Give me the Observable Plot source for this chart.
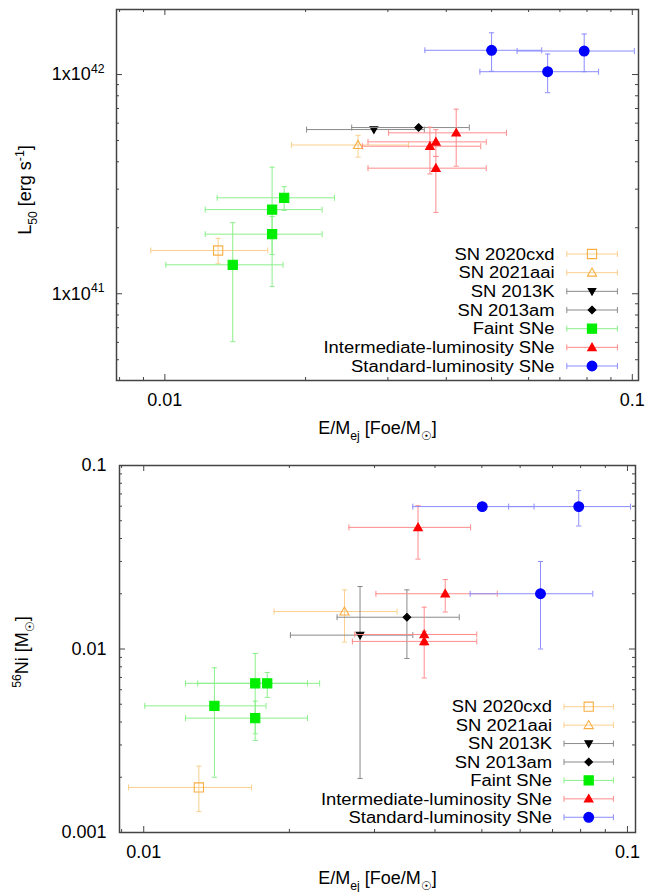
<!DOCTYPE html>
<html><head><meta charset="utf-8">
<script src="https://cdn.jsdelivr.net/npm/d3@7"></script>
<script src="https://cdn.jsdelivr.net/npm/@observablehq/plot@0.6"></script>
<style>
body{margin:0;background:#fff;}
#chart{width:646px;}
svg{display:block;}
</style></head><body><div id="chart"></div>
<script>
// ---------- DATA ----------
const seriesNames = ["SN 2020cxd","SN 2021aai","SN 2013K","SN 2013am","Faint SNe","Intermediate-luminosity SNe","Standard-luminosity SNe"];

// Top panel: L50 vs E/Mej
const topSeries = ["SN 2020cxd","SN 2021aai","SN 2013K","SN 2013am",
  "Faint SNe","Faint SNe","Faint SNe","Faint SNe",
  "Intermediate-luminosity SNe","Intermediate-luminosity SNe","Intermediate-luminosity SNe","Intermediate-luminosity SNe",
  "Standard-luminosity SNe","Standard-luminosity SNe","Standard-luminosity SNe"];
const topE   = [0.013, 0.0259, 0.028, 0.0349, 0.018, 0.01696, 0.01696, 0.01397, 0.042, 0.038, 0.0369, 0.038, 0.050, 0.0789, 0.0659];
const topELo = [0.00933, 0.01865, 0.0201, 0.0251, 0.01294, 0.0122, 0.0122, 0.01005, 0.0301, 0.0272, 0.02646, 0.0272, 0.036, 0.0567, 0.0472];
const topEHi = [0.0166, 0.0332, 0.0359, 0.0448, 0.02306, 0.0217, 0.0217, 0.0179, 0.0538, 0.0487, 0.0474, 0.0487, 0.064, 0.101, 0.0847];
const topL   = [1.575e41, 4.77e41, 5.61e41, 5.73e41, 2.74e41, 2.42e41, 1.87e41, 1.355e41, 5.42e41, 4.93e41, 4.71e41, 3.74e41, 1.29e42, 1.28e42, 1.03e42];
const topLLo = [1.37e41, 4.2e41, 5.61e41, 5.73e41, 2.40e41, 1.51e41, 1.08e41, 6.04e40, 3.82e41, 4.23e41, 3.52e41, 2.35e41, 1.035e42, 1.03e42, 8.26e41];
const topLHi = [1.79e41, 5.28e41, 5.61e41, 5.73e41, 3.08e41, 3.78e41, 2.25e41, 2.11e41, 6.95e41, 5.6e41, 5.75e41, 4.23e41, 1.55e42, 1.53e42, 1.24e42];

// Bottom panel: 56Ni vs E/Mej
const botSeries = topSeries.slice();
const botE   = [0.013, 0.026, 0.028, 0.035, 0.018, 0.017, 0.014, 0.017, 0.042, 0.038, 0.0369, 0.038, 0.0501, 0.0793, 0.0661];
const botELo = [0.0093, 0.0186, 0.0201, 0.0251, 0.01293, 0.0122, 0.01005, 0.0122, 0.0302, 0.0273, 0.02656, 0.0270, 0.036, 0.0568, 0.0473];
const botEHi = [0.0167, 0.0334, 0.036, 0.0449, 0.0231, 0.0218, 0.0179, 0.0218, 0.0538, 0.0488, 0.0474, 0.0488, 0.0641, 0.1015, 0.0848];
const botNi   = [0.00176, 0.016, 0.0119, 0.0149, 0.0065, 0.0065, 0.0049, 0.0042, 0.020, 0.012, 0.046, 0.011, 0.0597, 0.0597, 0.020];
const botNiLo = [0.0013, 0.0109, 0.00197, 0.00888, 0.00545, 0.00345, 0.0020, 0.00317, 0.0159, 0.0105, 0.0309, 0.00695, 0.0597, 0.0468, 0.010];
const botNiHi = [0.0023, 0.021, 0.0219, 0.021, 0.00745, 0.00945, 0.0079, 0.0052, 0.0239, 0.0169, 0.0604, 0.0125, 0.0597, 0.073, 0.030];

const topXDomain = [0.00788, 0.1031], topYDomain = [4.02e40, 1.98e42];
const botXDomain = [0.00891, 0.1039], botYDomain = [0.001, 0.1];

// ---------- STYLES ----------
function sz(s){return Math.sqrt(s/Math.PI);}
const symCircle = {draw(c,s){const r=sz(s); c.moveTo(r,0); c.arc(0,0,r,0,2*Math.PI);}};
const symSquare = {draw(c,s){const r=sz(s); c.rect(-r,-r,2*r,2*r);}};
const symTriUp  = {draw(c,s){const r=sz(s); c.moveTo(0,-r); c.lineTo(r,0.75*r); c.lineTo(-r,0.75*r); c.closePath();}};
const symTriDn  = {draw(c,s){const r=sz(s); c.moveTo(0,r); c.lineTo(r,-0.75*r); c.lineTo(-r,-0.75*r); c.closePath();}};
const symDiam   = {draw(c,s){const r=sz(s); c.moveTo(0,-r); c.lineTo(r,0); c.lineTo(0,r); c.lineTo(-r,0); c.closePath();}};
const capV = {draw(c,s){const r=sz(s); c.moveTo(0,-r); c.lineTo(0,r);}};
const capH = {draw(c,s){const r=sz(s); c.moveTo(-r,0); c.lineTo(r,0);}};

const styles = {
  "SN 2020cxd": {sym: symSquare, r: 4.6, fill: "none", stroke: "#F7AE45", bar: "#FBCF8E"},
  "SN 2021aai": {sym: symTriUp, r: 4.6, fill: "none", stroke: "#F7AE45", bar: "#FBCF8E"},
  "SN 2013K": {sym: symTriDn, r: 3.8, fill: "#000", stroke: "#000", bar: "#8a8a8a"},
  "SN 2013am": {sym: symDiam, r: 3.8, fill: "#000", stroke: "#000", bar: "#8a8a8a"},
  "Faint SNe": {sym: symSquare, r: 4.6, fill: "#00EE00", stroke: "#00EE00", bar: "#8BF08B"},
  "Intermediate-luminosity SNe": {sym: symTriUp, r: 4.3, fill: "#FF0000", stroke: "#FF0000", bar: "#FF8C8C"},
  "Standard-luminosity SNe": {sym: symCircle, r: 4.9, fill: "#0000FF", stroke: "#0000FF", bar: "#8C8CFF"}
};

const FONT = "'Liberation Sans', Arial, Helvetica, sans-serif";
const FRAME = "#444";

function logTicks(lo, hi){
  const out=[];
  for(let e=Math.floor(Math.log10(lo)); e<=Math.ceil(Math.log10(hi)); e++)
    for(let m=1;m<10;m++){const v=+(m*Math.pow(10,e)).toPrecision(6); if(v>=lo&&v<=hi) out.push({v, major:m===1});}
  return out;
}

function buildRows(names, x, xlo, xhi, y, ylo, yhi){
  return names.map((s,i)=>({s, x:x[i], xlo:xlo[i], xhi:xhi[i], y:y[i], ylo:ylo[i], yhi:yhi[i]}));
}

function panel(rows, opt){
  const W = 646 - opt.ml - opt.mr, H = opt.h - opt.mt - opt.mb;
  const xt = logTicks(opt.xd[0], opt.xd[1]), yt = logTicks(opt.yd[0], opt.yd[1]);
  const marks = [];
  // ticks (inward, mirrored)
  marks.push(Plot.tickX(xt.filter(d=>d.major), {x:"v", stroke:FRAME, insetTop:H-6}));
  marks.push(Plot.tickX(xt.filter(d=>!d.major), {x:"v", stroke:FRAME, insetTop:H-3}));
  marks.push(Plot.tickX(xt.filter(d=>d.major), {x:"v", stroke:FRAME, insetBottom:H-6}));
  marks.push(Plot.tickX(xt.filter(d=>!d.major), {x:"v", stroke:FRAME, insetBottom:H-3}));
  marks.push(Plot.tickY(yt.filter(d=>d.major), {y:"v", stroke:FRAME, insetRight:W-6}));
  marks.push(Plot.tickY(yt.filter(d=>!d.major), {y:"v", stroke:FRAME, insetRight:W-3}));
  marks.push(Plot.tickY(yt.filter(d=>d.major), {y:"v", stroke:FRAME, insetLeft:W-6}));
  marks.push(Plot.tickY(yt.filter(d=>!d.major), {y:"v", stroke:FRAME, insetLeft:W-3}));
  // data
  for (const name of seriesNames){
    const st = styles[name];
    const d = rows.filter(r=>r.s===name);
    const dy = d.filter(r=>r.ylo!==r.yhi);
    marks.push(Plot.ruleY(d, {y:"y", x1:"xlo", x2:"xhi", stroke:st.bar, strokeWidth:1}));
    marks.push(Plot.dot(d, {x:"xlo", y:"y", symbol:capV, r:3, stroke:st.bar, fill:"none", strokeWidth:1}));
    marks.push(Plot.dot(d, {x:"xhi", y:"y", symbol:capV, r:3, stroke:st.bar, fill:"none", strokeWidth:1}));
    marks.push(Plot.ruleX(dy, {x:"x", y1:"ylo", y2:"yhi", stroke:st.bar, strokeWidth:1}));
    marks.push(Plot.dot(dy, {x:"x", y:"ylo", symbol:capH, r:2.6, stroke:st.bar, fill:"none", strokeWidth:1}));
    marks.push(Plot.dot(dy, {x:"x", y:"yhi", symbol:capH, r:2.6, stroke:st.bar, fill:"none", strokeWidth:1}));
    marks.push(Plot.dot(d, {x:"x", y:"y", symbol:st.sym, r:st.r, fill:st.fill, stroke:st.stroke, strokeWidth:1.1}));
  }
  marks.push(Plot.frame({stroke:FRAME, strokeWidth:1.5}));
  // tick labels
  marks.push(Plot.axisX({ticks:[0.01,0.1], tickSize:0, tickPadding:opt.xpad, tickFormat:d=>String(d), label:null, fontSize:18}));
  marks.push(Plot.axisY({ticks:yt.filter(d=>d.major).map(d=>d.v), tickSize:0, tickPadding:opt.ypad, tickFormat:opt.yfmt, label:null, fontSize:18}));
  // titles
  marks.push(Plot.text([opt.xtitle], {frameAnchor:"bottom", lineAnchor:"middle", textAnchor:"middle", dy:opt.xtdy, text:d=>d, fontSize:18}));
  marks.push(Plot.text([opt.ytitle], {frameAnchor:"left", lineAnchor:"middle", textAnchor:"middle", rotate:-90, dx:opt.ytdx, dy:opt.ytdy, text:d=>d, fontSize:18}));
  return Plot.plot({
    width:646, height:opt.h,
    marginLeft:opt.ml, marginRight:opt.mr, marginTop:opt.mt, marginBottom:opt.mb,
    x:{type:"log", domain:opt.xd}, y:{type:"log", domain:opt.yd},
    style:{fontFamily:FONT, fontSize:"18px", color:"#000", background:"#fff", overflow:"visible"},
    marks
  });
}

function richify(svg){
  svg.querySelectorAll("text").forEach(t=>{
    const s = t.textContent;
    if(!/[_^]\{/.test(s)) return;
    const F = parseFloat(getComputedStyle(t).fontSize) || 18;
    const parts=[]; let last=0; const re=/([_^])\{([^}]*)\}/g; let m;
    while((m=re.exec(s))){ if(m.index>last) parts.push({k:"n", t:s.slice(last,m.index)}); parts.push({k:m[1], t:m[2]}); last=re.lastIndex; }
    if(last<s.length) parts.push({k:"n", t:s.slice(last)});
    while(t.firstChild) t.removeChild(t.firstChild);
    let shift=0;
    for(const p of parts){
      const ts=document.createElementNS("http://www.w3.org/2000/svg","tspan");
      ts.textContent=p.t;
      let target = p.k==="^" ? -0.42*F : p.k==="_" ? 0.3*F : 0;
      const d = target - shift; if(d!==0) ts.setAttribute("dy", d.toFixed(2));
      shift = target;
      if(p.k!=="n") ts.setAttribute("font-size", (0.68*F).toFixed(2));
      t.appendChild(ts);
    }
  });
}

function legend(svg, o){
  const g = d3.select(svg).append("g").attr("font-family", FONT).attr("font-size", o.fs);
  seriesNames.forEach((name,i)=>{
    const st=styles[name], y=o.y0+i*o.step;
    const t = g.append("text").attr("x",o.tx).attr("y",y).attr("dy","0.36em").attr("text-anchor","end").attr("fill","#000").text(name);
    const w = t.node().getComputedTextLength();
    if (w > 0) t.attr("textLength", (w*o.stretch).toFixed(1)).attr("lengthAdjust","spacingAndGlyphs");
    g.append("line").attr("x1",o.l1).attr("x2",o.l2).attr("y1",y).attr("y2",y).attr("stroke",st.bar);
    [o.l1,o.l2].forEach(x=>g.append("line").attr("x1",x).attr("x2",x).attr("y1",y-3).attr("y2",y+3).attr("stroke",st.bar));
    g.append("path").attr("transform",`translate(${o.sx},${y})`)
      .attr("d", d3.symbol().type(st.sym).size(Math.PI*st.r*st.r)())
      .attr("fill",st.fill).attr("stroke",st.stroke).attr("stroke-width",1.1);
  });
}

const topRows = buildRows(topSeries, topE, topELo, topEHi, topL, topLLo, topLHi);
const botRows = buildRows(botSeries, botE, botELo, botEHi, botNi, botNiLo, botNiHi);

const svg1 = panel(topRows, {h:445, ml:116, mr:8, mt:9, mb:65, xd:topXDomain, yd:topYDomain,
  xpad:13, ypad:12, yfmt:d=>`1x10^{${Math.round(Math.log10(d))}}`,
  xtitle:"E/M_{ej} [Foe/M_{☉}]", xtdy:48, ytitle:"L_{50} [erg s^{-1}]", ytdx:-91, ytdy:-5});
const svg2 = panel(botRows, {h:447, ml:119, mr:11, mt:20, mb:60, xd:botXDomain, yd:botYDomain,
  xpad:12.5, ypad:13, yfmt:d=>String(d),
  xtitle:"E/M_{ej} [Foe/M_{☉}]", xtdy:46, ytitle:"^{56}Ni [M_{☉}]", ytdx:-97, ytdy:3});

const root=document.getElementById("chart");
root.appendChild(svg1); root.appendChild(svg2);
richify(svg1); richify(svg2);
legend(svg1, {fs:16, stretch:1.15, tx:554.6, l1:566.8, l2:617.4, sx:592, y0:254, step:18.67});
legend(svg2, {fs:16, stretch:1.15, tx:552, l1:564, l2:613.4, sx:588.7, y0:706.7-445, step:18.43});
</script></body></html>
